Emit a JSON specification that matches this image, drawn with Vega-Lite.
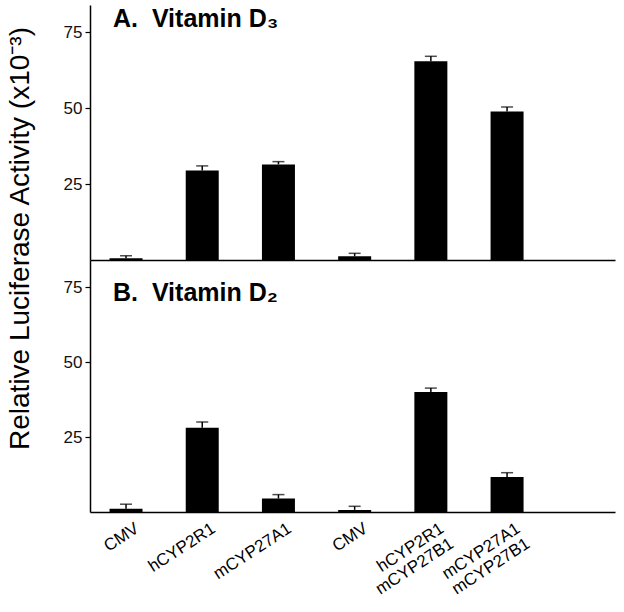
{
  "$schema": "https://vega.github.io/schema/vega-lite/v6.json",
  "padding": {"left": 5, "top": 5, "right": 5, "bottom": 5},
  "background": "white",
  "spacing": 0,
  "bounds": "flush",
  "config": {
    "view": {"stroke": null},
    "font": "Liberation Sans",
    "axis": {"grid": false, "domainColor": "black", "domainWidth": 1.5, "tickColor": "black", "labelColor": "#111", "labelFont": "Liberation Sans", "titleFont": "Liberation Sans"}
  },
  "datasets": {
    "d": [
      {"panel": "A", "cat": "CMV", "value": 0.6, "hi": 1.4},
      {"panel": "A", "cat": "hCYP2R1", "value": 29.5, "hi": 31.0},
      {"panel": "A", "cat": "mCYP27A1", "value": 31.5, "hi": 32.4},
      {"panel": "A", "cat": "CMV ", "value": 1.2, "hi": 2.2},
      {"panel": "A", "cat": "hCYP2R1 mCYP27B1", "value": 65.5, "hi": 67.1},
      {"panel": "A", "cat": "mCYP27A1 mCYP27B1", "value": 48.9, "hi": 50.4},
      {"panel": "B", "cat": "CMV", "value": 1.1, "hi": 2.6},
      {"panel": "B", "cat": "hCYP2R1", "value": 28.1, "hi": 30.0},
      {"panel": "B", "cat": "mCYP27A1", "value": 4.5, "hi": 5.8},
      {"panel": "B", "cat": "CMV ", "value": 0.7, "hi": 1.9},
      {"panel": "B", "cat": "hCYP2R1 mCYP27B1", "value": 40.0, "hi": 41.3},
      {"panel": "B", "cat": "mCYP27A1 mCYP27B1", "value": 11.7, "hi": 13.1}
    ]
  },
  "vconcat": [
    {
      "width": 525,
      "height": 255,
      "title": {"text": "A.\u00a0\u00a0Vitamin D₃", "anchor": "start", "frame": "group", "offset": -47, "dx": 23, "fontSize": 25, "fontWeight": "bold", "baseline": "alphabetic", "color": "black", "font": "Liberation Sans"},
      "data": {"name": "d"},
      "transform": [{"filter": "datum.panel == 'A'"}],
      "encoding": {
        "x": {"field": "cat", "type": "nominal", "sort": null,
              "scale": {"type": "band", "paddingInner": 0.567, "paddingOuter": 0.728, "align": 0.176},
              "axis": {"labels": false, "ticks": false, "title": null}}
      },
      "layer": [
        {"mark": {"type": "bar", "color": "black"},
         "encoding": {"y": {"field": "value", "type": "quantitative", "scale": {"domain": [0, 84], "nice": false},
           "axis": {"values": [25, 50, 75], "tickSize": 5, "tickWidth": 1.2, "labelFontSize": 17, "labelPadding": 3,
                    "title": "Relative Luciferase Activity (x10⁻³)", "titleFontSize": 28, "titleFontWeight": "normal", "titleColor": "black",
                    "titleX": -62, "titleY": 233, "titleAngle": -90, "titleAlign": "center", "titleBaseline": "alphabetic"}}}},
        {"mark": {"type": "rule", "color": "black", "strokeWidth": 1.5},
         "encoding": {"y": {"field": "value", "type": "quantitative", "title": "Relative Luciferase Activity (x10⁻³)"}, "y2": {"field": "hi"}}},
        {"mark": {"type": "tick", "color": "black", "size": 12, "thickness": 1.5},
         "encoding": {"y": {"field": "hi", "type": "quantitative", "title": "Relative Luciferase Activity (x10⁻³)"}}}
      ]
    },
    {
      "width": 525,
      "height": 252,
      "title": {"text": "B.\u00a0\u00a0Vitamin D₂", "anchor": "start", "frame": "group", "offset": -66, "dx": 23, "fontSize": 25, "fontWeight": "bold", "baseline": "alphabetic", "color": "black", "font": "Liberation Sans"},
      "data": {"name": "d"},
      "transform": [{"filter": "datum.panel == 'B'"}],
      "encoding": {
        "x": {"field": "cat", "type": "nominal", "sort": null,
              "scale": {"type": "band", "paddingInner": 0.567, "paddingOuter": 0.728, "align": 0.176},
              "axis": {"ticks": false, "title": null, "labelAngle": -33, "labelAlign": "right", "labelBaseline": "top",
                       "labelFontSize": 17, "labelPadding": 8, "labelOffset": 7, "labelColor": "black", "labelLineHeight": 18,
                       "labelExpr": "split(trim(datum.label), ' ')"}}
      },
      "layer": [
        {"mark": {"type": "bar", "color": "black"},
         "encoding": {"y": {"field": "value", "type": "quantitative", "scale": {"domain": [0, 84], "nice": false},
           "axis": {"values": [25, 50, 75], "tickSize": 5, "tickWidth": 1.2, "labelFontSize": 17, "labelPadding": 3, "title": null}}}},
        {"mark": {"type": "rule", "color": "black", "strokeWidth": 1.5},
         "encoding": {"y": {"field": "value", "type": "quantitative", "title": null}, "y2": {"field": "hi"}}},
        {"mark": {"type": "tick", "color": "black", "size": 12, "thickness": 1.5},
         "encoding": {"y": {"field": "hi", "type": "quantitative", "title": null}}}
      ]
    }
  ]
}
